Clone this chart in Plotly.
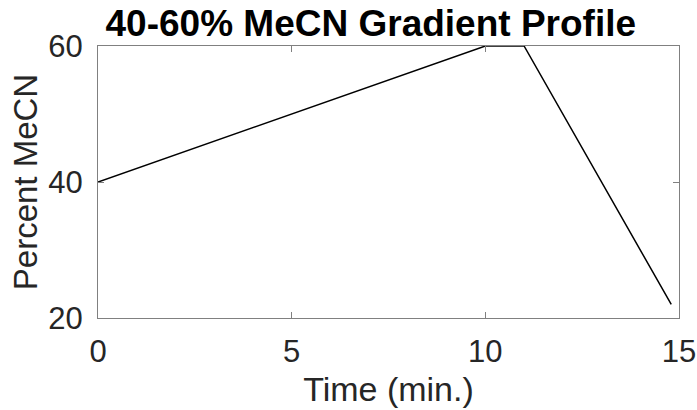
import plotly.graph_objects as go

# Gradient program: time (min) vs. percent MeCN
time_min = [0, 10, 11, 14.8]
percent_mecn = [40, 60, 60, 22]

x_ticks = [0, 5, 10, 15]
y_ticks = [20, 40, 60]

FONT = "Liberation Sans, Arial"

axis_common = dict(
    showline=True, linecolor="#808080", linewidth=1, mirror="ticks",
    ticks="inside", ticklen=6, tickcolor="#808080", tickwidth=1,
    showgrid=False, zeroline=False, automargin=False,
    tickfont=dict(family=FONT, size=31, color="#262626"),
)

fig = go.Figure()
fig.add_trace(go.Scatter(
    x=time_min, y=percent_mecn, mode="lines",
    line=dict(color="black", width=1.5),
    showlegend=False,
))

fig.update_layout(
    width=697, height=410,
    margin=dict(l=98, r=18, t=46, b=92),
    paper_bgcolor="white", plot_bgcolor="white",
    title=dict(
        text="<b>40-60% MeCN Gradient Profile</b>",
        x=0.532, xanchor="center", xref="container",
        y=0.945, yanchor="middle", yref="container",
        font=dict(family=FONT, size=37, color="black"),
    ),
    xaxis=dict(
        range=[0, 15], tickvals=x_ticks, ticktext=[str(v) for v in x_ticks],
        ticklabelstandoff=6,
        title=dict(text="Time (min.)", standoff=8,
                   font=dict(family=FONT, size=34, color="#262626")),
        **axis_common,
    ),
    yaxis=dict(
        range=[20, 60], tickvals=y_ticks, ticktext=[str(v) for v in y_ticks],
        ticklabelstandoff=8,
        title=dict(text="Percent MeCN", standoff=0,
                   font=dict(family=FONT, size=33, color="#262626")),
        **axis_common,
    ),
)

fig.write_html("out.html")
